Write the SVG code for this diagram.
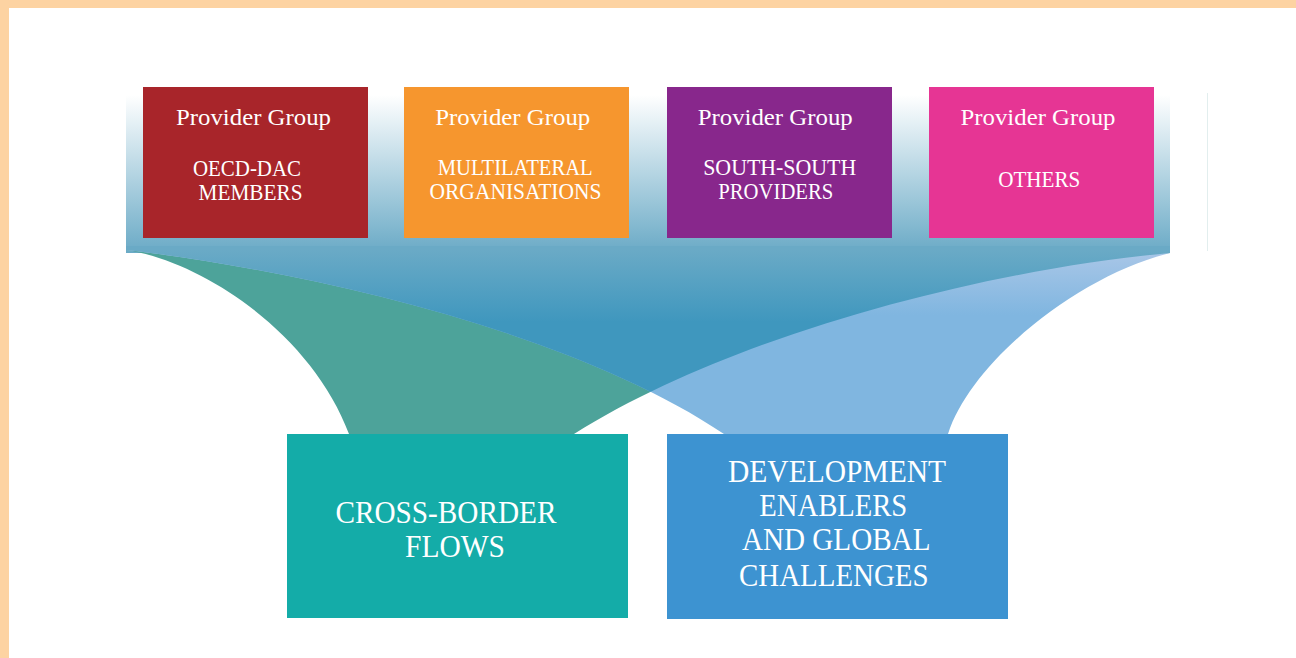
<svg xmlns="http://www.w3.org/2000/svg" width="1296" height="658" viewBox="0 0 1296 658">
  <style>
    .lbl { font-family: "Liberation Serif", "Times New Roman", serif; fill: #ffffff; text-anchor: middle; }
    .top { font-size: 23px; }
    .big { font-size: 31px; }
  </style>
  <defs>
    <linearGradient id="bandFade" gradientUnits="userSpaceOnUse" x1="0" y1="95" x2="0" y2="253">
      <stop offset="0" stop-color="#ffffff"/>
      <stop offset="1" stop-color="#6aaac6"/>
    </linearGradient>
    <linearGradient id="overlapFill" gradientUnits="userSpaceOnUse" x1="0" y1="250" x2="0" y2="322">
      <stop offset="0" stop-color="#6aaac6"/>
      <stop offset="1" stop-color="#3f97be"/>
    </linearGradient>
    <linearGradient id="lightFill" gradientUnits="userSpaceOnUse" x1="0" y1="253" x2="0" y2="315">
      <stop offset="0" stop-color="#a8c6e7"/>
      <stop offset="1" stop-color="#80b6e0"/>
    </linearGradient>
    <!-- fan running from the band down to the cross-border box -->
    <path id="fanCross" d="M126,250 C205,262 312,335 349,434 L574,434 C740,330 1000,268 1170,253 L1170,246 L126,246 Z"/>
    <!-- fan running from the band down to the development box -->
    <path id="fanDev" d="M126,250 C300,270 570,330 724,434 L948,434 C972,360 1080,275 1170,253 L1170,246 L126,246 Z"/>
    <clipPath id="clipCross">
      <use href="#fanCross"/>
    </clipPath>
  </defs>

  <!-- page frame -->
  <rect x="0" y="0" width="1296" height="658" fill="#fdd3a2"/>
  <rect x="9" y="8" width="1287" height="650" fill="#ffffff"/>

  <!-- shaded band behind the provider groups -->
  <g id="band">
    <rect x="126" y="95" width="1044" height="158" fill="url(#bandFade)"/>
    <line x1="1207.5" y1="93" x2="1207.5" y2="251" stroke="#e2eeee" stroke-width="1"/>
  </g>

  <!-- flows from providers to the two destinations -->
  <g id="connectors">
    <use href="#fanCross" fill="#4da39a"/>
    <use href="#fanDev" fill="url(#lightFill)"/>
    <use href="#fanDev" fill="url(#overlapFill)" clip-path="url(#clipCross)"/>
  </g>

  <g id="oecd-dac">
    <rect x="143" y="87" width="225" height="151" fill="#a8252a"/>
    <text class="lbl top" x="253.5" y="125" textLength="155" lengthAdjust="spacingAndGlyphs">Provider Group</text>
    <text class="lbl top" x="247" y="175.5" textLength="108" lengthAdjust="spacingAndGlyphs">OECD-DAC</text>
    <text class="lbl top" x="250.5" y="200" textLength="104" lengthAdjust="spacingAndGlyphs">MEMBERS</text>
  </g>

  <g id="multilateral">
    <rect x="404" y="87" width="225" height="151" fill="#f6962e"/>
    <text class="lbl top" x="512.7" y="125" textLength="155" lengthAdjust="spacingAndGlyphs">Provider Group</text>
    <text class="lbl top" x="515.2" y="174.5" textLength="155" lengthAdjust="spacingAndGlyphs">MULTILATERAL</text>
    <text class="lbl top" x="515.5" y="199" textLength="172" lengthAdjust="spacingAndGlyphs">ORGANISATIONS</text>
  </g>

  <g id="south-south">
    <rect x="667" y="87" width="225" height="151" fill="#88278c"/>
    <text class="lbl top" x="775.2" y="125" textLength="155" lengthAdjust="spacingAndGlyphs">Provider Group</text>
    <text class="lbl top" x="779.7" y="174.5" textLength="153" lengthAdjust="spacingAndGlyphs">SOUTH-SOUTH</text>
    <text class="lbl top" x="775.8" y="199" textLength="115" lengthAdjust="spacingAndGlyphs">PROVIDERS</text>
  </g>

  <g id="others">
    <rect x="929" y="87" width="225" height="151" fill="#e63594"/>
    <text class="lbl top" x="1038" y="125" textLength="155" lengthAdjust="spacingAndGlyphs">Provider Group</text>
    <text class="lbl top" x="1039.2" y="186.7" textLength="82" lengthAdjust="spacingAndGlyphs">OTHERS</text>
  </g>

  <g id="cross-border">
    <rect x="287" y="434" width="341" height="184" fill="#14aca8"/>
    <text class="lbl big" x="445.9" y="522.7" textLength="221" lengthAdjust="spacingAndGlyphs">CROSS-BORDER</text>
    <text class="lbl big" x="455" y="556.7" textLength="100" lengthAdjust="spacingAndGlyphs">FLOWS</text>
  </g>

  <g id="development">
    <rect x="667" y="434" width="341" height="185" fill="#3d93d1"/>
    <text class="lbl big" x="837" y="481.7" textLength="218" lengthAdjust="spacingAndGlyphs">DEVELOPMENT</text>
    <text class="lbl big" x="833.3" y="516" textLength="148" lengthAdjust="spacingAndGlyphs">ENABLERS</text>
    <text class="lbl big" x="836.2" y="550" textLength="188.5" lengthAdjust="spacingAndGlyphs">AND GLOBAL</text>
    <text class="lbl big" x="833.8" y="586" textLength="189.5" lengthAdjust="spacingAndGlyphs">CHALLENGES</text>
  </g>
</svg>
